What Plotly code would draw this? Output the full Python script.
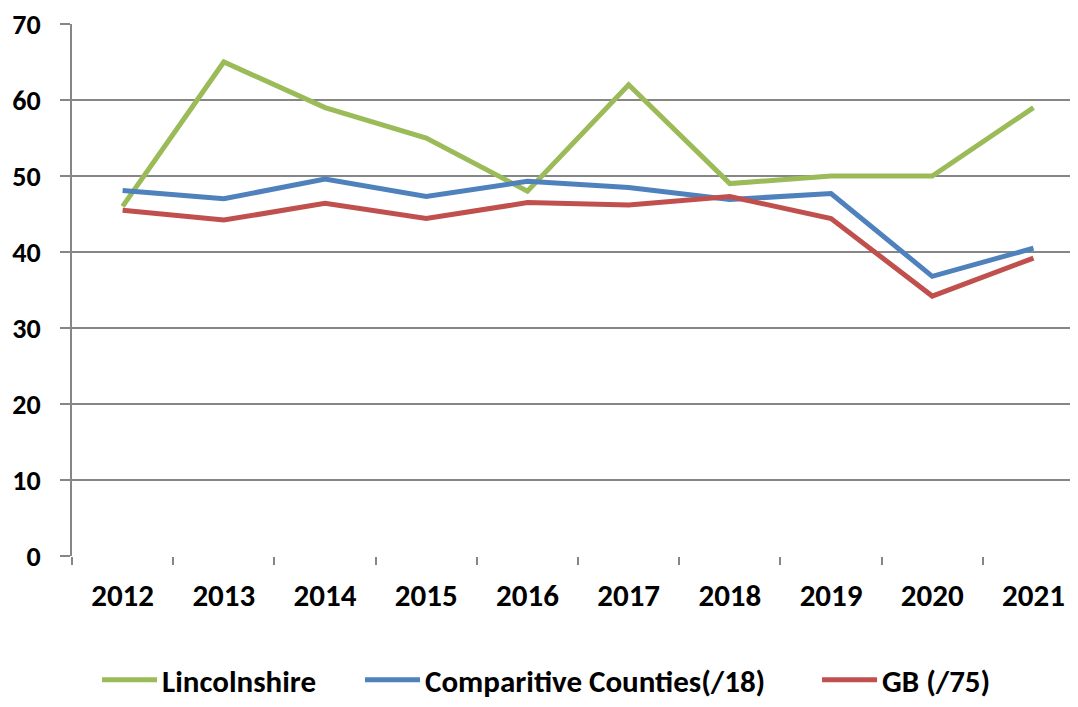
import plotly.graph_objects as go

years = ["2012", "2013", "2014", "2015", "2016", "2017", "2018", "2019", "2020", "2021"]
lincolnshire = [46, 65, 59, 55, 48, 62, 49, 50, 50, 59]
comparative = [48.1, 47.0, 49.6, 47.3, 49.3, 48.5, 46.9, 47.7, 36.8, 40.5]
gb = [45.5, 44.2, 46.4, 44.4, 46.5, 46.2, 47.3, 44.4, 34.2, 39.2]

names = ["Lincolnshire", "Comparitive Counties(/18)", "GB (/75)"]
colors = ["#9BBB59", "#4F81BD", "#C0504D"]
legend_ids = ["legend", "legend2", "legend3"]
legend_x = [0.0249, 0.2863, 0.7406]

FONT = "Calibri, Carlito, Lato, sans-serif"

fig = go.Figure()
for name, vals, col, lid in zip(names, [lincolnshire, comparative, gb], colors, legend_ids):
    fig.add_trace(go.Scatter(x=years, y=vals, mode="lines", name=name, legend=lid,
                             line=dict(color=col, width=5)))

leg_common = dict(orientation="h", xanchor="left", y=-0.2838, yanchor="bottom",
                  font=dict(family=FONT, size=31, color="black", weight="bold"),
                  itemwidth=55, bgcolor="rgba(0,0,0,0)")

fig.update_layout(
    width=1070, height=699,
    margin=dict(l=64, r=0, t=16, b=151, autoexpand=False),
    paper_bgcolor="white", plot_bgcolor="white",
    font=dict(family=FONT, size=31, color="black", weight="bold"),
    showlegend=True,
    legend=dict(x=legend_x[0], **leg_common),
    legend2=dict(x=legend_x[1], **leg_common),
    legend3=dict(x=legend_x[2], **leg_common),
)
fig.update_xaxes(type="category", range=[-0.5, 9.44], showgrid=False,
                 showline=False, ticks="outside", tickson="boundaries",
                 ticklen=8, tickcolor="#868686", tickwidth=1.5,
                 ticklabelstandoff=18, zeroline=False, automargin=False,
                 ticklabeloverflow="allow")
fig.update_yaxes(range=[0, 70], dtick=10, showgrid=True, gridcolor="#868686",
                 gridwidth=1.5, showline=True, linecolor="#868686", linewidth=1.5,
                 ticks="outside", ticklen=10, tickcolor="#868686", tickwidth=1.5,
                 ticklabelstandoff=14, zeroline=False, automargin=False,
                 ticklabeloverflow="allow",
                 tickfont=dict(family=FONT, size=28, color="black", weight="bold"))
fig.write_html("out.html")
